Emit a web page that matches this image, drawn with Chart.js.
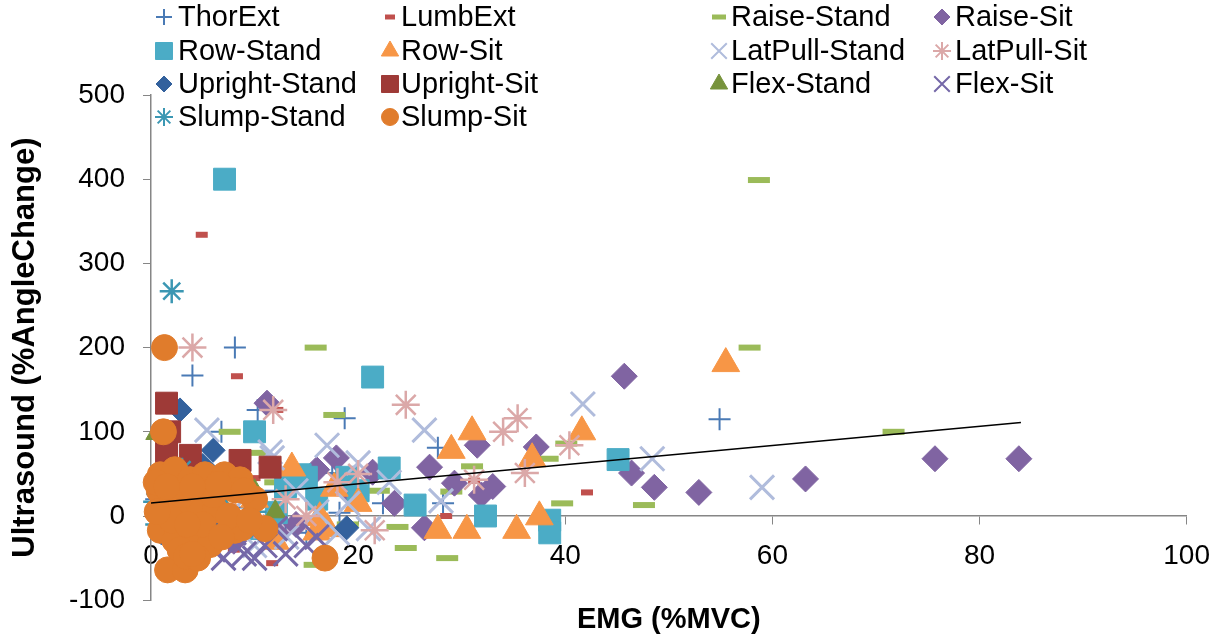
<!DOCTYPE html>
<html>
<head>
<meta charset="utf-8">
<script src="https://cdn.jsdelivr.net/npm/chart.js@4"></script>
<style>
  body { margin: 0; background: #fff; }
  #wrap { position: relative; width: 1225px; height: 641px; }
</style>
</head>
<body>
<div id="wrap"><canvas id="chart"></canvas></div>
<script>
    // Each point is [EMG (%MVC), Ultrasound (%AngleChange)]
    const thorExt = [[4.0, 167], [8.1, 200], [54.9, 115], [18.7, 116], [27.7, 81], [28.2, 15], [22.4, 15],
        [10.3, 126], [6.8, 100], [17.5, 51], [18.2, 4], [0.5, 20], [3, -10], [5, 40], [2, 60], [12, 30],
        [15, -20], [9, 10], [13, -5], [20, 25]];
    const lumbExt = [[4.9, 334], [8.3, 166], [12.2, 126], [11.7, -56], [42.1, 28], [28.5, 0], [31.2, 42],
        [3, 5], [6, -20], [10, 45], [8, -40], [16, 20]];
    const raiseStand = [[58.7, 399], [57.8, 200], [15.9, 200], [7.6, 100], [17.7, 120], [10.2, 75], [15.8, -58],
        [71.7, 100], [47.6, 13], [40.1, 86], [39.7, 15], [38.3, 68], [31, 59], [29, 29], [23.8, -13],
        [24.6, -38], [28.6, -50], [22, 30], [12, 40], [5, -30], [3, 10], [19, -10]];
    const raiseSit = [[45.7, 166], [75.7, 68], [83.8, 68], [63.2, 44], [52.9, 28], [48.6, 34], [46.4, 51],
        [37.2, 82], [31.5, 84], [33, 35], [31.9, 25], [29.3, 39], [26.9, 58], [26.4, -14], [23.5, 15],
        [21.4, 52], [17.9, 69], [11.2, 134], [12.1, -20], [19, 30], [14, -10], [8, -30], [5, 25], [16, 55]];
    const rowStand = [[7.1, 400], [21.4, 165], [10.0, 100], [23, 57], [45.1, 67], [32.3, 0], [38.5, -5],
        [38.5, -20], [25.5, 13], [14.4, 49], [12.1, 4], [15, 46], [18.9, 46], [20, 30], [16, 20], [10, -15],
        [13, 35], [6, 15]];
    const rowSit = [[55.5, 181], [41.6, 100], [31, 100], [29, 78], [36.8, 68], [37.5, -1], [35.3, -17],
        [30.5, -17], [27.7, -17], [16.3, -2], [17, -15], [13.6, 57], [17.7, 33], [20, 15], [16, -19],
        [10, 20], [12, -30], [8, 0], [6, -10]];
    const latPullStand = [[59, 34], [48.4, 68], [41.7, 133], [26.4, 102], [5.4, 102], [17, 84], [11.5, 76],
        [13.1, -25], [20, 63], [11.7, 69], [28, 18], [9, 20], [14, 30], [19, 15], [21, -15], [16, 5],
        [7, 40], [3, 0], [23, 40], [10, -35], [18, -20]];
    const latPullSit = [[4, 200], [24.6, 132], [35.4, 116], [34, 100], [36.1, 51], [40.4, 84], [31.2, 43],
        [21.6, -17], [11.8, 126], [8, 30], [13, 20], [18, 40], [10, -10], [15, 0], [20, 50]];
    const uprightStand = [[2.8, 126], [6, 78], [18.9, -14], [2, 40], [4, 20], [7, -10], [1, -20], [5, 60]];
    const uprightSit = [[1.5, 134], [1.8, 100], [1.5, 75], [3.8, 72], [8.6, 66], [11.5, 58], [6, 45]];
    const flexStand = [[0.5, 98], [6.9, 13], [5, -14], [10, 30], [3, -30], [12, 5], [8, -5]];
    const flexSit = [[6, -40], [9, -45], [11, -35], [13, -45], [4, -30], [8, -20], [15, -35], [10, -50],
        [2, -10], [12, -15], [7, -50], [16, -25]];
    const slumpStand = [[2, 267], [0.4, 17], [3, 55], [6, -25], [1, 0], [2, 30], [4, 10], [5, -5], [7, 20],
        [9, -15], [0.6, -10], [3, -40], [10, 5], [8, 35]];
    const slumpSit = [[1.3, 200], [1.2, 100], [16.8, -50], [0.9, 49], [2.3, 55], [3.8, 43], [5.2, 49],
        [7.1, 49], [8.6, 43], [1.4, 13], [2.8, 7], [4.7, 13], [6.2, 7], [0.9, -17], [2.3, -29], [4.2, -23],
        [5.7, -34], [1.6, -64], [3.3, -64], [8.1, 31], [8.1, -17], [8.8, -14], [2.8, -40], [3.4, -48],
        [10, 20], [3, 25], [6, 25], [0.8, 30], [11, -15], [0.5, 40], [1.5, 35], [4, 35], [6.5, 38], [9, 30],
        [2, -5], [5, -10], [7.5, 0], [4.5, -50], [4, -45], [6.8, -25], [9.5, -5], [3.5, -10],
        [0.6, 5]];

    // linear trend line end points
    const trendLine = [[0, 15.5], [84, 111]];

    const xRange = [0, 100, 20];
    const yRange = [-100, 500, 100];

    // marker look per series (r = plot radius, lr = legend radius, lw = line width)
    const series = [
        { label: 'ThorExt', data: thorExt, style: 'cross', color: '#4a7ab5', r: 11, lr: 8, lw: 2 },
        { label: 'LumbExt', data: lumbExt, style: 'line', color: '#c0504d', r: 6, lr: 5, lw: 6 },
        { label: 'Raise-Stand', data: raiseStand, style: 'line', color: '#9bbb59', r: 11, lr: 7, lw: 6 },
        { label: 'Raise-Sit', data: raiseSit, style: 'rectRot', color: '#8064a2', r: 13, lr: 8, lw: 1 },
        { label: 'Row-Stand', data: rowStand, style: 'rect', color: '#4bacc6', r: 15.5, lr: 12, lw: 1 },
        { label: 'Row-Sit', data: rowSit, style: 'triangle', color: '#f79646', r: 16, lr: 10, lw: 1 },
        { label: 'LatPull-Stand', data: latPullStand, style: 'crossRot', color: '#b0bcdc', r: 17, lr: 11, lw: 3 },
        { label: 'LatPull-Sit', data: latPullSit, style: 'star', color: '#dba8a8', r: 14, lr: 9, lw: 2.5 },
        { label: 'Upright-Stand', data: uprightStand, style: 'rectRot', color: '#33619d', r: 12, lr: 8, lw: 1 },
        { label: 'Upright-Sit', data: uprightSit, style: 'rect', color: '#9e3a37', r: 15.5, lr: 12, lw: 1 },
        { label: 'Flex-Stand', data: flexStand, style: 'triangle', color: '#77933c', r: 12, lr: 10, lw: 1 },
        { label: 'Flex-Sit', data: flexSit, style: 'crossRot', color: '#7568a8', r: 17, lr: 11, lw: 3 },
        { label: 'Slump-Stand', data: slumpStand, style: 'star', color: '#3b97b3', r: 12, lr: 9, lw: 2.5 },
        { label: 'Slump-Sit', data: slumpSit, style: 'circle', color: '#e07c2c', r: 13, lr: 8.5, lw: 1 }
    ];

    const fontFamily = "'Liberation Sans', Arial, sans-serif";
    Chart.defaults.font.family = fontFamily;
    Chart.defaults.color = '#000';

    const datasets = series.map((s, i) => ({
        label: s.label,
        data: s.data.map(p => ({ x: p[0], y: p[1] })),
        pointStyle: s.style,
        pointRadius: s.r,
        pointHoverRadius: s.r,
        pointBackgroundColor: s.color,
        pointBorderColor: s.color,
        pointBorderWidth: s.lw,
        showLine: false,
        clip: false,
        order: series.length - i + 1   // later series drawn on top, like Excel
    }));
    datasets.push({
        label: 'Trend',
        data: trendLine.map(p => ({ x: p[0], y: p[1] })),
        showLine: true,
        borderColor: '#000',
        borderWidth: 1.5,
        pointRadius: 0,
        order: 0
    });

    // 4-column legend laid over the top of the plot
    const legendMarkX = [164, 390, 719, 942];
    const legendTextX = [178, 401, 731, 955];
    const legendRowY = [17, 51, 84, 117];

    const gridLegend = {
        id: 'gridLegend',
        afterDraw(chart) {
            const ctx = chart.ctx;
            ctx.save();
            ctx.font = '29px ' + fontFamily;
            ctx.textBaseline = 'middle';
            series.forEach((s, i) => {
                const col = i % 4, row = Math.floor(i / 4);
                const y = legendRowY[row];
                ctx.fillStyle = s.color;
                ctx.strokeStyle = s.color;
                ctx.lineWidth = s.style === 'line' ? 5 : (s.lw > 1 ? 2 : 1);
                Chart.helpers.drawPoint(ctx, { pointStyle: s.style, radius: s.lr, rotation: 0, borderWidth: ctx.lineWidth },
                    legendMarkX[col], y);
                ctx.fillStyle = '#000';
                ctx.fillText(s.label, legendTextX[col], y + 1);
            });
            ctx.restore();
        }
    };

    const axisColor = '#868686';

    new Chart(document.getElementById('chart'), {
        type: 'scatter',
        data: { datasets },
        options: {
            responsive: true,
            maintainAspectRatio: false,
            animation: false,
            layout: { padding: { left: 0, right: 37, top: 95, bottom: 0 } },
            plugins: {
                legend: { display: false },
                tooltip: { enabled: false },
                title: {
                    display: true,
                    position: 'bottom',
                    fullSize: false,
                    text: 'EMG (%MVC)',
                    color: '#000',
                    font: { size: 29, weight: 'bold' },
                    padding: { top: 2, bottom: 4 }
                }
            },
            scales: {
                x: {
                    type: 'linear',
                    position: { y: 0 },
                    min: xRange[0],
                    max: xRange[1],
                    ticks: { stepSize: xRange[2], font: { size: 28 }, padding: 15, color: '#000' },
                    grid: { drawOnChartArea: false, drawTicks: true, tickLength: 8, color: axisColor },
                    border: { color: axisColor, width: 1.5 }
                },
                y: {
                    type: 'linear',
                    position: 'left',
                    min: yRange[0],
                    max: yRange[1],
                    afterFit(scale) { scale.width = 151; },
                    ticks: { stepSize: yRange[2], font: { size: 28 }, padding: 18, color: '#000' },
                    grid: { drawOnChartArea: false, drawTicks: true, tickLength: 8, color: axisColor },
                    border: { color: axisColor, width: 1.5 },
                    title: {
                        display: true,
                        text: 'Ultrasound (%AngleChange)',
                        color: '#000',
                        font: { size: 31, weight: 'bold' },
                        padding: { top: 7, bottom: 0 }
                    }
                }
            }
        },
        plugins: [gridLegend]
    });
</script>
</body>
</html>
